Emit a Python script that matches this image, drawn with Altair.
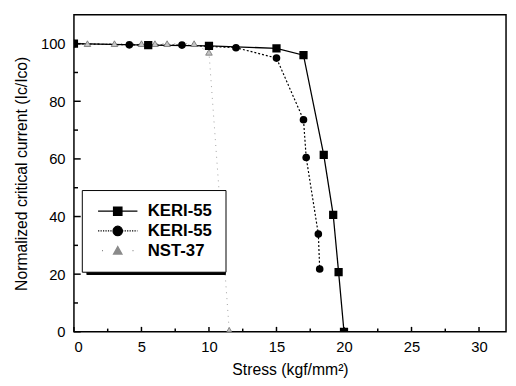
import altair as alt
import pandas as pd

# ---- data ----
keri_sq_x = [0, 5.5, 10, 15, 17, 18.5, 19.2, 19.6, 20]
keri_sq_y = [100, 99.5, 99.2, 98.4, 96, 61.4, 40.6, 20.7, 0]
keri_ci_x = [0, 4.1, 8, 12, 15, 17, 17.2, 18.1, 18.2]
keri_ci_y = [100, 99.6, 99.5, 98.6, 95, 73.6, 60.5, 33.9, 21.8]
nst_x = [0, 1, 3, 5, 6, 6.9, 8.9, 10, 11.5]
nst_y = [100, 100, 100, 100, 100, 100, 100, 97, 0.5]

series_keys = ["a", "b", "c"]
series_names = ["KERI-55", "KERI-55", "NST-37"]

x_major = [0, 5, 10, 15, 20, 25, 30]
x_minor = [2.5, 7.5, 12.5, 17.5, 22.5, 27.5]
y_major = [0, 20, 40, 60, 80, 100]
y_minor = [10, 30, 50, 70, 90]

# ---- frames ----
df_sq = pd.DataFrame({"x": keri_sq_x, "y": keri_sq_y})
df_ci = pd.DataFrame({"x": keri_ci_x, "y": keri_ci_y})
df_nst = pd.DataFrame({"x": nst_x, "y": nst_y})
df_leg = pd.DataFrame({"s": series_keys, "x": [0, 0, 0], "y": [0, 0, 0]})

xs = alt.Scale(domain=[0, 32], nice=False, zero=False)
ys = alt.Scale(domain=[0, 110], nice=False, zero=False)

xaxis = alt.Axis(values=x_major, title="Stress (kgf/mm²)", labelPadding=8, titlePadding=7, format="d")
yaxis = alt.Axis(values=y_major, title="Normalized critical current (Ic/Ico)",
                 labelPadding=9, titlePadding=11, format="d")
X = alt.X("x:Q", scale=xs, axis=xaxis)
Y = alt.Y("y:Q", scale=ys, axis=yaxis)

gray = "#8a8a8a"

line_nst = alt.Chart(df_nst).mark_line(color="#a0a0a0", strokeWidth=1, strokeDash=[1, 5], clip=True).encode(x=X, y=Y)
line_ci = alt.Chart(df_ci).mark_line(color="black", strokeWidth=1.2, strokeDash=[2, 2], clip=True).encode(x=X, y=Y)
line_sq = alt.Chart(df_sq).mark_line(color="black", strokeWidth=1.3, clip=True).encode(x=X, y=Y)

pt_nst = alt.Chart(df_nst).mark_point(shape="triangle-up", size=45, filled=True, fill="#c4c4c4",
                                      stroke="#6f6f6f", strokeWidth=0.8, opacity=1, clip=True).encode(x=X, y=Y)
pt_ci = alt.Chart(df_ci).mark_point(shape="circle", size=60, filled=True, color="black", opacity=1, clip=True).encode(x=X, y=Y)
pt_sq = alt.Chart(df_sq).mark_point(shape="square", size=70, filled=True, color="black", opacity=1, clip=True).encode(x=X, y=Y)

# inward ticks (drawn through the scales)
tx_major = pd.DataFrame({"x": x_major})
tx_minor = pd.DataFrame({"x": x_minor})
ty_major = pd.DataFrame({"y": y_major})
ty_minor = pd.DataFrame({"y": y_minor})


def xtick(df, length):
    return alt.Chart(df).transform_calculate(t0="0", t1=str(length)).mark_rule(
        color="black", strokeWidth=1.5).encode(
        x=alt.X("x:Q", scale=xs, axis=xaxis),
        y=alt.Y("t0:Q", scale=ys, axis=yaxis), y2="t1:Q")


def ytick(df, length):
    return alt.Chart(df).transform_calculate(t0="0", t1=str(length)).mark_rule(
        color="black", strokeWidth=1.5).encode(
        y=alt.Y("y:Q", scale=ys, axis=yaxis),
        x=alt.X("t0:Q", scale=xs, axis=xaxis), x2="t1:Q")


tick_xM = xtick(tx_major, 1.7)
tick_xm = xtick(tx_minor, 1.1)
tick_yM = ytick(ty_major, 0.5)
tick_ym = ytick(ty_minor, 0.3)


def dotted(x0, x1, seg, gap):
    parts = []
    p = x0
    while p < x1 - 1e-9:
        q = min(p + seg, x1)
        parts.append("M%.2f,0H%.2f" % (p, q))
        p = q + gap
    return "".join(parts)


path_sq = "M-4,0H4M-0.85,-0.85H0.85V0.85H-0.85Z"
path_ci = (dotted(-4, -0.9, 0.25, 0.25) + dotted(0.9, 4, 0.25, 0.25)
           + "M0.95,0A0.95,0.95 0 1,1 -0.95,0A0.95,0.95 0 1,1 0.95,0Z")
path_tri = "M-3.2,0H-3M3,0H3.2M0,-0.8L0.85,0.7H-0.85Z"

legend = alt.Legend(
    title=None, orient="none", legendX=8, legendY=178,
    labelExpr="datum.label == 'c' ? 'NST-37' : 'KERI-55'",
    symbolSize=100, symbolStrokeWidth=1.3, symbolOffset=15, labelOffset=22,
    labelFont="Liberation Sans", labelFontSize=17, labelFontWeight="bold", labelColor="black",
    padding=13, rowPadding=2, strokeColor="black", fillColor="white",
)

leg_dom = alt.Scale(domain=series_keys, range=["black", "black", gray])
leg_layer = alt.Chart(df_leg).mark_point(filled=True, opacity=1).transform_filter("false").encode(
    x=X, y=Y,
    shape=alt.Shape("s:N", scale=alt.Scale(domain=series_keys, range=[path_sq, path_ci, path_tri]), legend=legend),
    fill=alt.Fill("s:N", scale=leg_dom, legend=legend),
    stroke=alt.Stroke("s:N", scale=leg_dom, legend=legend),
)

shadow = alt.Chart(df_leg).mark_rect(color="black").encode(
    x=alt.value(13), x2=alt.value(154), y=alt.value(184), y2=alt.value(264))

chart = alt.layer(
    line_nst, line_ci, line_sq, pt_nst, pt_ci, pt_sq,
    tick_xM, tick_xm, tick_yM, tick_ym,
    shadow, leg_layer,
).properties(
    width=439, height=322,
    autosize=alt.AutoSizeParams(type="none"),
    padding={"left": 67, "top": 4, "right": 2, "bottom": 44},
    background="white",
).configure_view(
    stroke="black", strokeWidth=1.5
).configure_axis(
    grid=False, ticks=False, domain=False,
    labelFont="Liberation Sans", labelFontSize=15, labelColor="black",
    titleFont="Liberation Sans", titleFontSize=16, titleFontWeight="normal", titleColor="black",
)

chart.save("out.html", embed_options={"renderer": "svg", "actions": False})
